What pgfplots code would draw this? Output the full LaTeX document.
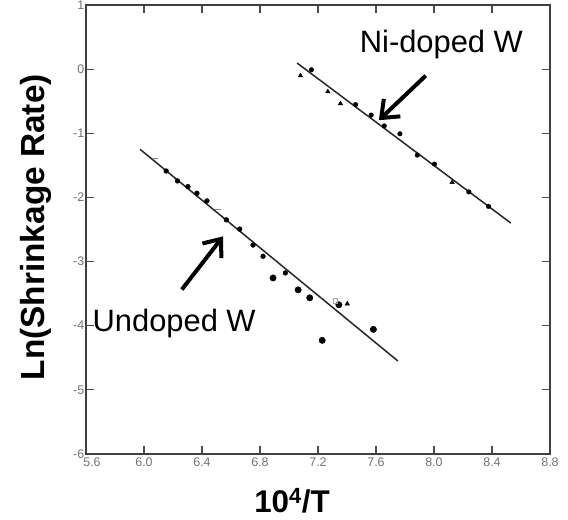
\documentclass[border=0pt]{standalone}
\usepackage{fontspec}
\setmainfont{Liberation Sans}
\usepackage{pgfplots}
\pgfplotsset{compat=1.18}
\usetikzlibrary{arrows.meta}
\begin{document}
\begin{tikzpicture}
\begin{axis}[
  scale only axis, width=464bp, height=449bp,
  at={(0,0)}, anchor=south west,
  xmin=5.6, xmax=8.8, ymin=-6, ymax=1,
  clip=false,
  xtick={5.6,6.0,6.4,6.8,7.2,7.6,8.0,8.4,8.8},
  xticklabels={\hspace{12bp}5.6,6.0,6.4,6.8,7.2,7.6,8.0,8.4,8.8},
  ytick={-6,-5,-4,-3,-2,-1,0,1},
  yticklabels={-6,-5,-4,-3,-2,-1,0,1},
  tick align=inside,
  major tick length=8bp,
  axis line style={draw=black!75, line width=1.6bp},
  tick style={draw=black!70, line width=1.1bp},
  ticklabel style={font=\fontsize{12.5}{14}\selectfont, text=black!55},
  xticklabel style={inner sep=2bp, yshift=-2bp},
  yticklabel style={inner sep=1.5bp},
  xlabel={\textbf{10\textsuperscript{4}/T}},
  xlabel style={font=\fontsize{31.5}{34}\selectfont, inner sep=0pt, at={(axis description cs:0.444,-0.1292)}, anchor=base},
  ylabel={\textbf{Ln(Shrinkage Rate)}},
  ylabel style={font=\fontsize{33.5}{36}\selectfont, at={(axis description cs:-0.108,0.505)}, anchor=center, rotate=0},
]
% fitted lines
\addplot[black!85, line width=1.5bp] coordinates {(7.056,0.095) (8.53,-2.40)};
\addplot[black!85, line width=1.5bp] coordinates {(5.973,-1.25) (7.751,-4.55)};
% Ni-doped W: circles
\addplot[only marks, mark=*, mark size=2.3bp, black] coordinates {
(7.155,-0.01) (7.459,-0.553) (7.567,-0.716) (7.657,-0.885) (7.765,-1.008)
(7.885,-1.34) (8.003,-1.48) (8.240,-1.914) (8.376,-2.14)};
% Ni-doped W: triangles
\addplot[only marks, mark=triangle*, mark size=2.6bp, black] coordinates {
(7.079,-0.102) (7.268,-0.351) (7.355,-0.537) (8.125,-1.765)};
% Undoped W: circles on the line
\addplot[only marks, mark=*, mark size=2.4bp, black] coordinates {
(6.153,-1.588) (6.231,-1.743) (6.303,-1.831) (6.365,-1.935) (6.434,-2.054)
(6.568,-2.349) (6.660,-2.494) (6.752,-2.742) (6.821,-2.918) (6.975,-3.177)};
% Undoped W: scattered circles
\addplot[only marks, mark=*, mark size=3.2bp, black] coordinates {
(6.890,-3.255) (7.063,-3.441) (7.143,-3.565) (7.229,-4.228) (7.344,-3.674) (7.582,-4.057)};
% Undoped W: triangle
\addplot[only marks, mark=triangle*, mark size=2.6bp, black] coordinates {(7.402,-3.658)};
% faint marks
\addplot[only marks, mark=-, mark size=3bp, black!50] coordinates {(6.077,-1.396) (6.508,-2.183)};
\addplot[only marks, mark=square, mark size=2.2bp, black!35] coordinates {(7.32,-3.607)};
% arrows
\draw[line width=4bp, -{Straight Barb[length=15bp,width=24bp]}] (axis cs:7.943,-0.102) -- (axis cs:7.62,-0.796);
\draw[line width=4bp, -{Straight Barb[length=15bp,width=24bp]}] (axis cs:6.261,-3.436) -- (axis cs:6.545,-2.608);
% labels
\node[font=\fontsize{31}{36}\selectfont, anchor=base] at (axis cs:8.051,0.256) {Ni-doped W};
\node[font=\fontsize{31}{36}\selectfont, anchor=base] at (axis cs:6.208,-4.093) {Undoped W};
\end{axis}
\pgfresetboundingbox
\useasboundingbox (-86bp,-66bp) rectangle (482bp,454bp);
\end{tikzpicture}
\end{document}
